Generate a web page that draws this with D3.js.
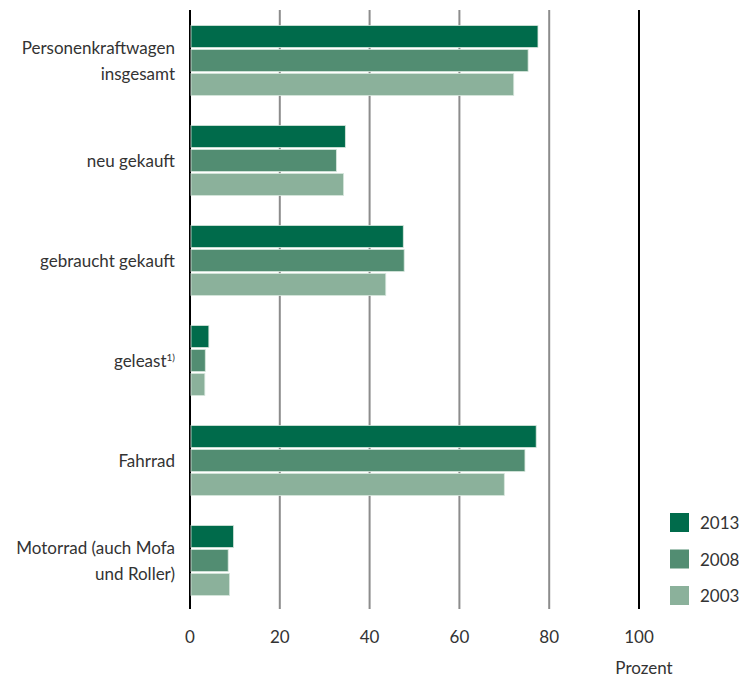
<!DOCTYPE html>
<html>
<head>
<meta charset="utf-8">
<script src="https://cdn.jsdelivr.net/npm/d3@7"></script>
<style>
  body { margin: 0; background: #fff; }
  text { font-family: Lato, "Open Sans", sans-serif; fill: #333; }
</style>
</head>
<body>
<svg id="chart" width="739" height="679"></svg>
<script>
const categories = [
  ["Personenkraftwagen", "insgesamt"],
  ["neu gekauft"],
  ["gebraucht gekauft"],
  ["geleast"],
  ["Fahrrad"],
  ["Motorrad (auch Mofa", "und Roller)"]
];
const years = ["2013", "2008", "2003"];
const values2013 = [77.5, 34.6, 47.5, 4.2, 77.1, 9.7];
const values2008 = [75.3, 32.6, 47.7, 3.4, 74.6, 8.5];
const values2003 = [72.1, 34.2, 43.6, 3.3, 70.0, 8.8];
const ticks = [0, 20, 40, 60, 80, 100];
const colors = ["#006b4b", "#528d72", "#8bb19b"];

const series = [values2013, values2008, values2003];
const svg = d3.select("#chart");
const fs = "17px";

const x = d3.scaleLinear().domain([0, 100]).range([190, 639]);
const y = d3.scaleBand().domain(d3.range(categories.length)).range([10.5, 610.5])
  .paddingInner(0.3).paddingOuter(0.15);
const ySub = d3.scaleBand().domain(years).range([0, y.bandwidth()]).paddingInner(1 / 12);

// grid lines
svg.append("g").selectAll("line")
  .data(ticks)
  .enter()
  .append("line")
  .attr("x1", d => x(d)).attr("x2", d => x(d))
  .attr("y1", 10).attr("y2", 609)
  .attr("stroke", d => (d === 0 || d === 100) ? "#000" : "#8c8c8c")
  .attr("stroke-width", 2);

// bars + labels
categories.forEach((cat, i) => {
  const g = svg.append("g").attr("transform", `translate(0,${y(i)})`);
  g.selectAll("rect")
    .data(years.map((yr, k) => ({ yr, v: series[k][i], c: colors[k] })))
    .enter()
    .append("rect")
    .attr("x", x(0) + 1)
    .attr("y", d => ySub(d.yr))
    .attr("width", d => x(d.v) - x(0) - 1)
    .attr("height", ySub.bandwidth())
    .attr("fill", d => d.c)
    .attr("stroke", "#d6e6dc")
    .attr("stroke-width", 0.8);

  const cy = y(i) + y.bandwidth() / 2;
  const t = svg.append("text")
    .attr("x", 175)
    .attr("text-anchor", "end")
    .style("font-size", fs);
  cat.forEach((ln, j) => {
    t.append("tspan")
      .attr("x", 175)
      .attr("y", cy + 6 + (j - (cat.length - 1) / 2) * 26)
      .text(ln);
  });
  if (cat[0] === "geleast") {
    t.append("tspan").attr("dy", -6).style("font-size", "10px").text("1)");
  }
});

// tick labels
svg.append("g").selectAll("text")
  .data(ticks)
  .enter()
  .append("text")
  .attr("x", d => x(d))
  .attr("y", 643)
  .attr("text-anchor", "middle")
  .style("font-size", fs)
  .text(d => d);

svg.append("text")
  .attr("x", 644)
  .attr("y", 674)
  .attr("text-anchor", "middle")
  .style("font-size", fs)
  .text("Prozent");

// legend
const legend = svg.append("g").selectAll("g")
  .data(years)
  .enter()
  .append("g")
  .attr("transform", (d, i) => `translate(670,${513 + i * 36.5})`);
legend.append("rect")
  .attr("width", 19).attr("height", 19)
  .attr("fill", (d, i) => colors[i]);
legend.append("text")
  .attr("x", 30).attr("y", 16)
  .style("font-size", fs)
  .text(d => d);
</script>
</body>
</html>
